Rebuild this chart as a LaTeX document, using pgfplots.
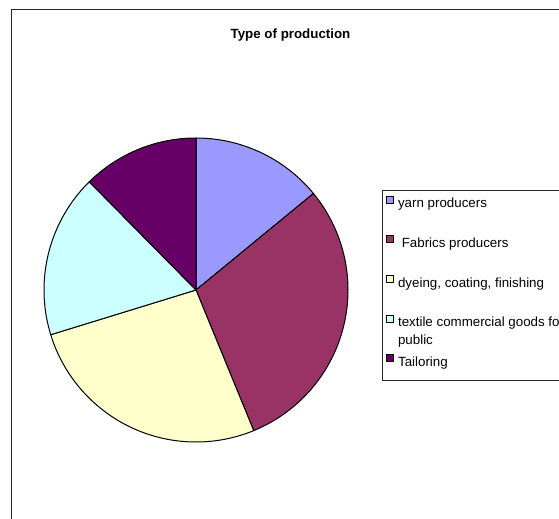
\documentclass[border=0pt]{standalone}
\usepackage{pgfplots}
\usepackage{pgfplotstable}
\pgfplotsset{compat=1.18}
\usepackage{fontspec}
\setmainfont{Liberation Sans}
\definecolor{cA}{HTML}{9999FF}
\definecolor{cB}{HTML}{993366}
\definecolor{cC}{HTML}{FFFFCC}
\definecolor{cD}{HTML}{CCFFFF}
\definecolor{cE}{HTML}{660066}
\pgfplotstableread{
value
17
36
32
21
15
}\piedata
\begin{document}
\begin{tikzpicture}[x=0.75pt,y=0.75pt]
\pgfplotstablegetelem{0}{value}\of\piedata\edef\vA{\pgfplotsretval}
\pgfplotstablegetelem{1}{value}\of\piedata\edef\vB{\pgfplotsretval}
\pgfplotstablegetelem{2}{value}\of\piedata\edef\vC{\pgfplotsretval}
\pgfplotstablegetelem{3}{value}\of\piedata\edef\vD{\pgfplotsretval}
\pgfplotstablegetelem{4}{value}\of\piedata\edef\vE{\pgfplotsretval}
\pgfmathsetmacro\tot{\vA+\vB+\vC+\vD+\vE}
\pgfmathsetmacro\unit{360/\tot}
\pgfmathsetmacro\aA{90-\unit*\vA}
\pgfmathsetmacro\aB{90-\unit*(\vA+\vB)}
\pgfmathsetmacro\aC{90-\unit*(\vA+\vB+\vC)}
\pgfmathsetmacro\aD{90-\unit*(\vA+\vB+\vC+\vD)}
\pgfmathsetmacro\aE{-270}
% outer frame and legend frame
\draw[line width=0.75pt, black!85] (11,508) -- (11,-60) (11,508) -- (620,508);
\draw[line width=0.75pt, black!85] (382,327) rectangle (640,138);
\node[anchor=base, font=\bfseries\fontsize{10}{12}\selectfont] at (290.5,479) {Type of production};
\begin{axis}[
  at={(147pt,171pt)}, anchor=center,
  scale only axis, width=228pt, height=228pt,
  xmin=-1, xmax=1, ymin=-1, ymax=1,
  hide axis, clip=false,
  legend cell align=left,
  legend image code/.code={\draw[#1,draw=black,line width=0.6pt] (0pt,0.75pt) rectangle (5.25pt,6pt);},
  legend style={draw=none, fill=none, at={(1.125,0.8109)}, anchor=north west,
    inner sep=0pt, row sep=18.7pt, column sep=3pt,
    font=\fontsize{10}{12}\selectfont,
    nodes={inner sep=0pt, text height=7.5pt, text depth=2pt}},
]
\addplot[fill=cA, draw=black, line width=0.75pt, line join=round, domain=\aA:90, samples=60] ({cos(x)},{sin(x)}) -- (axis cs:0,0) -- cycle;
\addlegendentry{yarn producers}
\addplot[fill=cB, draw=black, line width=0.75pt, line join=round, domain=\aB:\aA, samples=80] ({cos(x)},{sin(x)}) -- (axis cs:0,0) -- cycle;
\addlegendentry{\ Fabrics producers}
\addplot[fill=cC, draw=black, line width=0.75pt, line join=round, domain=\aC:\aB, samples=80] ({cos(x)},{sin(x)}) -- (axis cs:0,0) -- cycle;
\addlegendentry{dyeing, coating, finishing}
\addplot[fill=cD, draw=black, line width=0.75pt, line join=round, domain=\aD:\aC, samples=60] ({cos(x)},{sin(x)}) -- (axis cs:0,0) -- cycle;
\addlegendentry{\begin{tabular}[t]{@{}l@{}}textile commercial goods for\\[1.5pt] public\end{tabular}}
\addplot[fill=cE, draw=black, line width=0.75pt, line join=round, domain=\aE:\aD, samples=50] ({cos(x)},{sin(x)}) -- (axis cs:0,0) -- cycle;
\addlegendentry{Tailoring}
\end{axis}
\pgfresetboundingbox
\useasboundingbox (0,0) rectangle (559,518);
\end{tikzpicture}
\end{document}
